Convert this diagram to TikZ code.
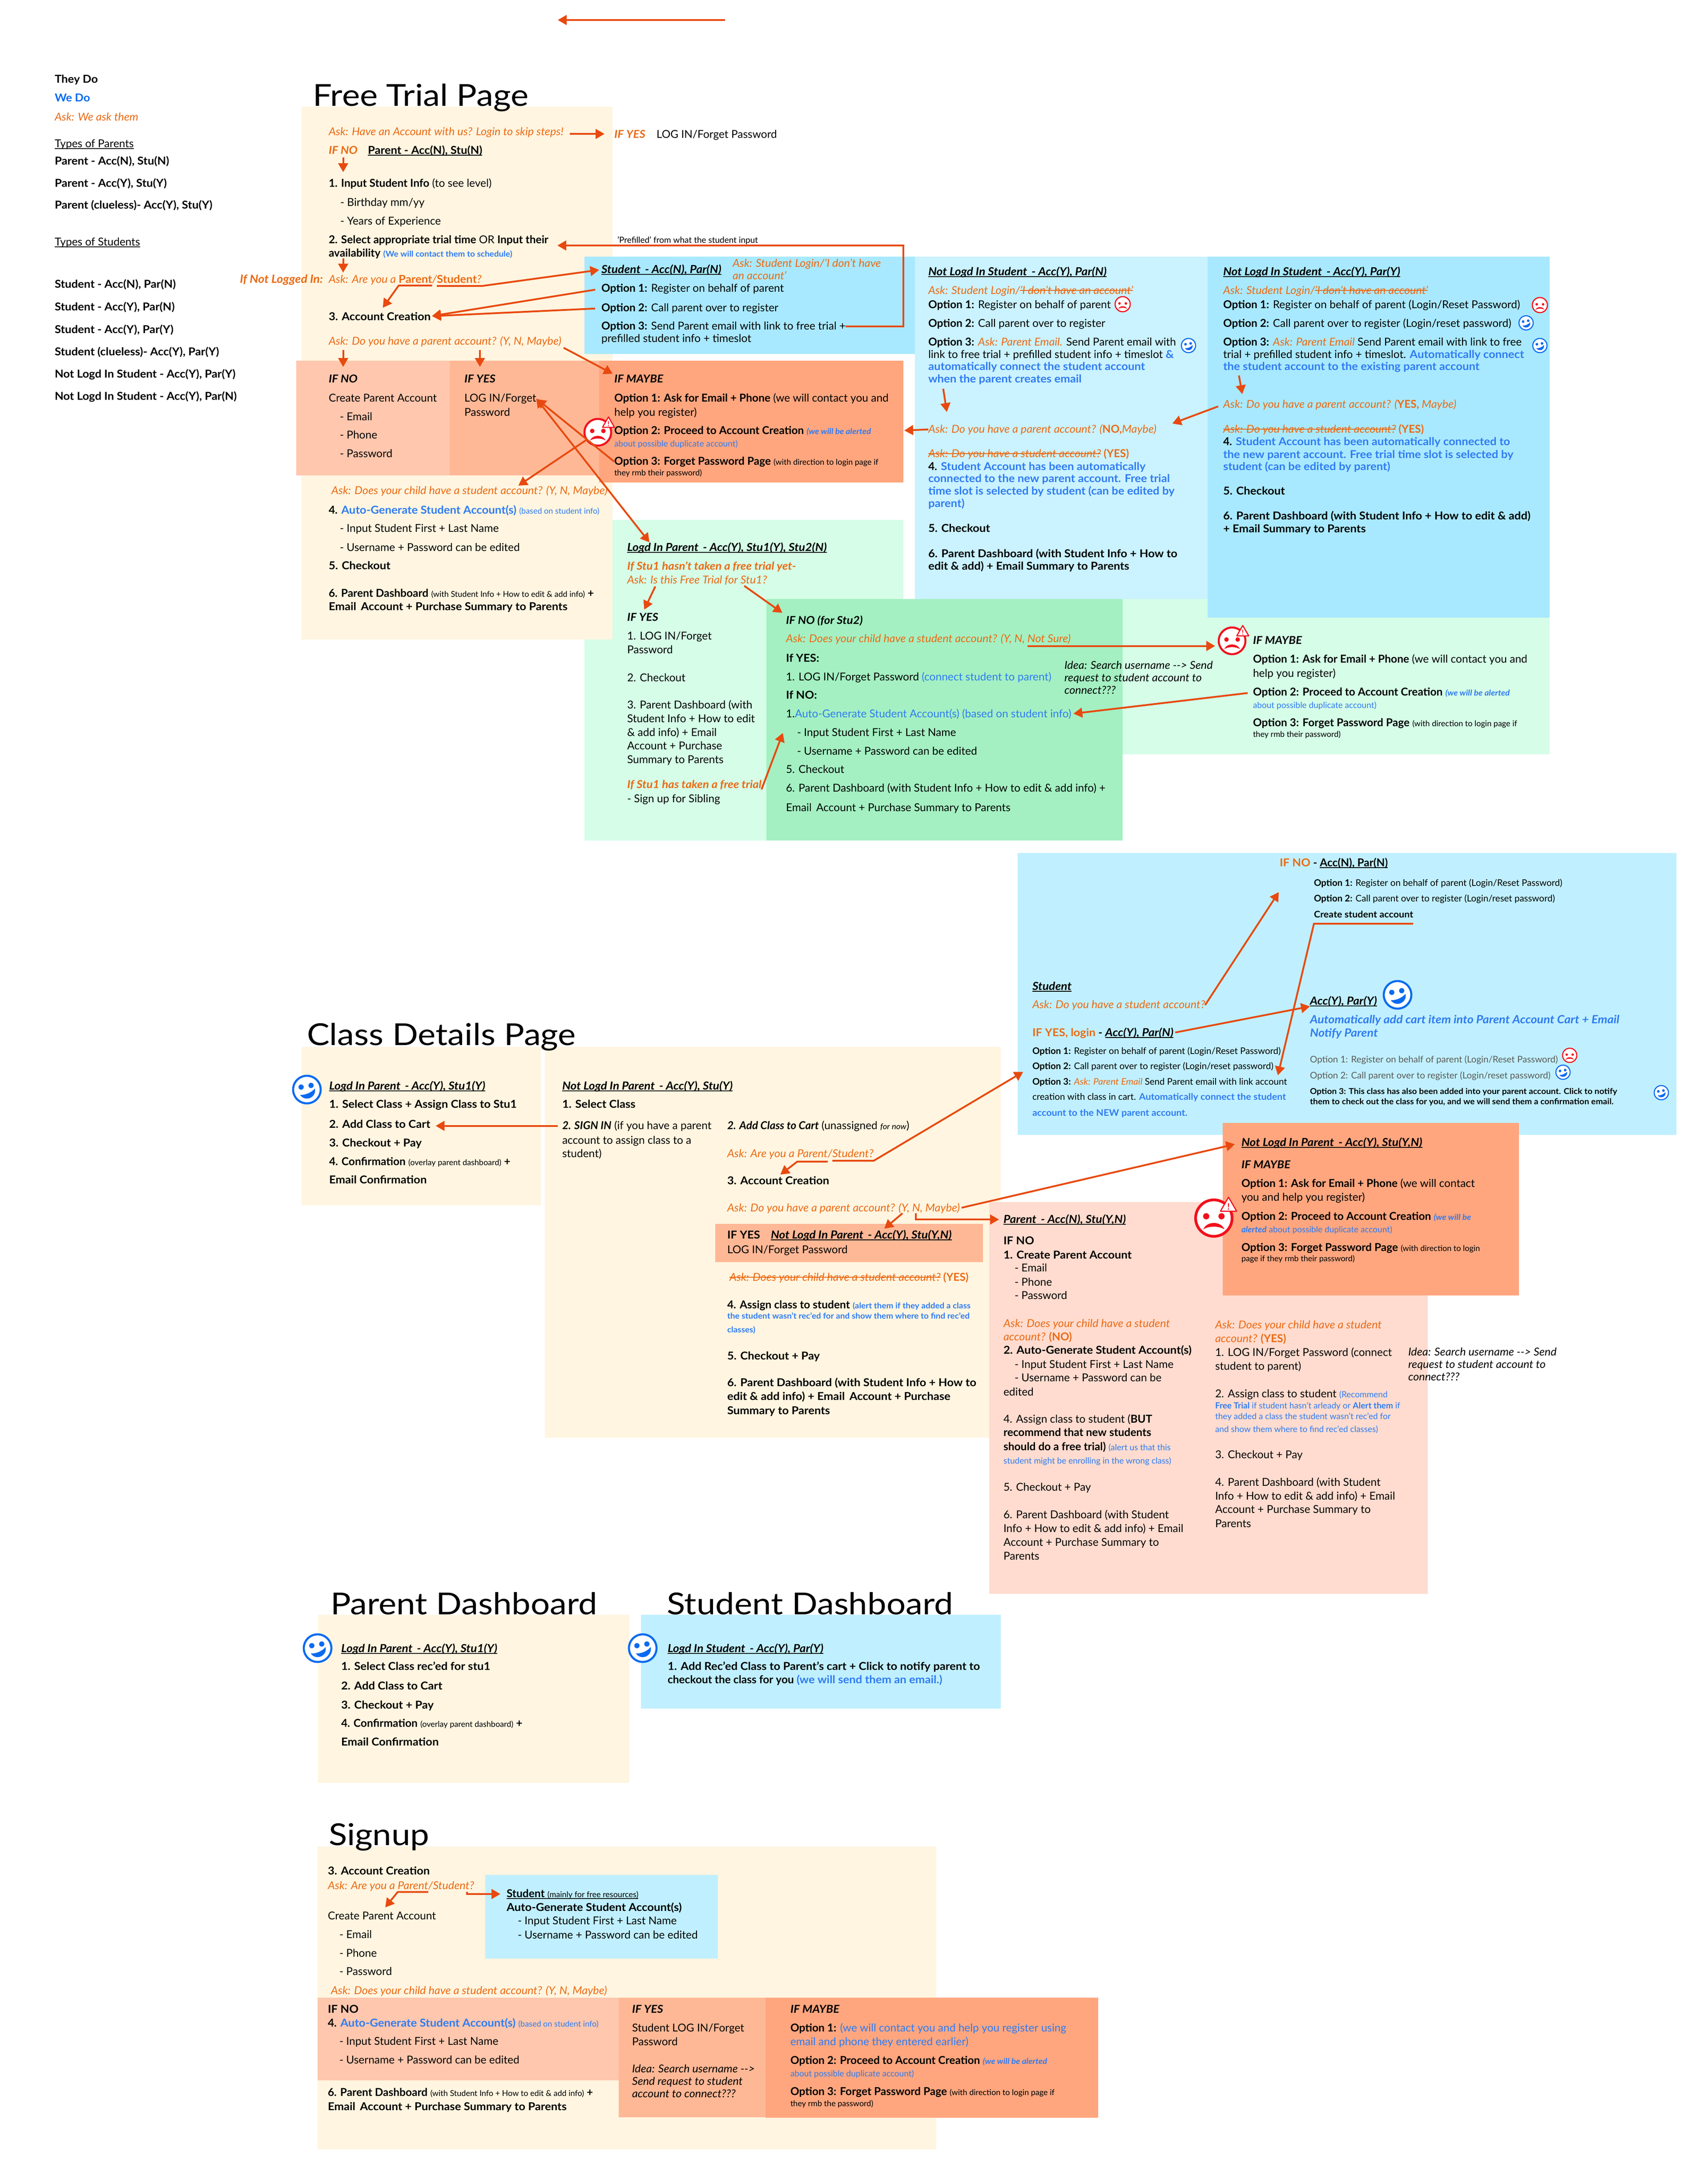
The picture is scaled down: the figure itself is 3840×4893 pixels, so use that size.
\documentclass[tikz,border=0pt]{standalone}
\usepackage{fontspec}
\setmainfont[BoldFeatures={FakeStretch=1.05},ItalicFeatures={FakeStretch=1.03},BoldItalicFeatures={FakeStretch=1.06}]{Lato}
\newfontfamily\titlefont[FakeStretch=1.12]{Lato}
\newfontfamily\flatfont{Lato}
\usetikzlibrary{arrows.meta,shapes.geometric,calc}

\definecolor{cream}{HTML}{FFF5E0}
\definecolor{saltA}{HTML}{FFC7AE}
\definecolor{saltB}{HTML}{FFB896}
\definecolor{saltC}{HTML}{FFA67F}
\definecolor{skyA}{HTML}{A9E9FF}
\definecolor{skyB}{HTML}{CAF2FF}
\definecolor{skyC}{HTML}{C0F0FF}
\definecolor{mintA}{HTML}{D5FDE7}
\definecolor{mintB}{HTML}{A4F0C2}
\definecolor{peach}{HTML}{FFDCCF}
\definecolor{arrowred}{HTML}{E8490F}
\definecolor{askor}{HTML}{EB6A13}
\definecolor{webl}{HTML}{2F7BF2}
\definecolor{facered}{HTML}{F2101C}
\definecolor{faceblue}{HTML}{0B6BF0}

\newsavebox\lnbox
\newcommand{\uline}[1]{\sbox\lnbox{#1}\rlap{\rule[-4pt]{\wd\lnbox}{1.6pt}}\usebox\lnbox}
\newcommand{\strk}[1]{\sbox\lnbox{#1}\rlap{\rule[7pt]{\wd\lnbox}{1.6pt}}\usebox\lnbox}
\newcommand{\ask}[1]{{\color{askor}\itshape #1}}
\newcommand{\bl}[1]{{\color{webl}#1}}
\newcommand{\flt}[1]{{\flatfont\bfseries #1}}
\newcommand{\sm}[1]{{\fontsize{18}{20}\selectfont #1}}
\newcommand{\smr}{\fontsize{19}{22}\selectfont}
\newcommand{\smb}{\fontsize{18}{21}\selectfont\bfseries}
\newcommand{\hd}[1]{{\fontsize{25}{28}\selectfont\bfseries\itshape\uline{#1}}}

\tikzset{
  tx/.style={anchor=base west,inner sep=0pt,outer sep=0pt,font=\fontsize{24.5}{28}\selectfont},
  txs/.style={tx,font=\fontsize{20.5}{24}\selectfont},
  txb/.style={tx,font=\fontsize{18.3}{22}\selectfont\bfseries},
  txa/.style={tx,font=\fontsize{25.5}{28}\selectfont\bfseries\itshape},
  big/.style={tx,font=\titlefont\fontsize{68}{72}\selectfont},
  arr/.style={draw=arrowred,line width=4pt,-{Triangle[length=20pt,width=22pt]}},
  face/.style={circle,fill=white,inner sep=0pt,outer sep=0pt},
  warnt/.style={regular polygon,regular polygon sides=3,draw=facered,fill=white,inner sep=0pt,
    text=facered,line join=round}
}

\newcommand{\sadface}[4]{%
  \node[face,draw=facered,minimum size={2*#4 pt},line width={.15*#4 pt}] (#1) at (#2,#3) {};
  \begin{scope}[shift={(#2,#3)},x=#4pt,y=-#4pt]
    \fill[facered] (-.42,-.1) circle[radius=.17] (.42,-.1) circle[radius=.17];
    \fill[facered] (-.58,.62) .. controls (-.4,.15) and (.4,.15) .. (.58,.62) .. controls (.3,.42) and (-.3,.42) .. cycle;
  \end{scope}}
\newcommand{\happyface}[4]{%
  \node[face,draw=faceblue,minimum size={2*#4 pt},line width={.15*#4 pt}] (#1) at (#2,#3) {};
  \begin{scope}[shift={(#2,#3)},x=#4pt,y=-#4pt]
    \fill[faceblue] (-.42,-.18) circle[radius=.19] (.3,-.3) circle[radius=.19];
    \fill[faceblue] (-.5,.38) .. controls (-.1,.42) and (.35,.2) .. (.58,-.08) .. controls (.72,.55) and (-.1,.95) .. cycle;
  \end{scope}}
\newcommand{\warnmark}[5]{%
  \node[warnt,minimum size=#4 pt,line width=2.5pt,font=\fontsize{#5}{#5}\selectfont\bfseries] (#1) at (#2,#3) {!};}

\begin{document}
\begin{tikzpicture}[x=1pt,y=-1pt]
\useasboundingbox (0,0) rectangle (3840,4893);
\fill[white] (0,0) rectangle (3840,4893);

% panels, back to front
\fill[mintA] (1314,1169) rectangle (2031,1890);
\fill[mintA] (2031,1347) rectangle (3484,1696);
\fill[cream] (678,240) rectangle (1377,1438);
\fill[skyA] (1314,577) rectangle (2057,796);
\fill[skyB] (2057,577) rectangle (2715,1347);
\fill[skyA] (2715,577) rectangle (3484,1389);
\fill[saltA] (666,811) rectangle (1011,1069);
\fill[saltB] (1011,811) rectangle (1347,1069);
\fill[saltC] (1347,811) rectangle (2031,1085);
\fill[mintB] (1723,1347) rectangle (2524,1890);
\fill[skyC] (2288,1918) rectangle (3769,2552);
\fill[cream] (678,2354) rectangle (1216,2710);
\fill[cream] (1225,2354) rectangle (2250,3233);
\fill[saltB] (1608,2752) rectangle (2210,2838);
\fill[peach] (2224,2703) rectangle (3210,3584);
\fill[saltC] (2749,2525) rectangle (3415,2913);
\fill[cream] (715,3631) rectangle (1415,4009);
\fill[skyC] (1441,3631) rectangle (2250,3842);
\fill[cream] (714,4152) rectangle (2105,4833);
\fill[skyC] (1091,4216) rectangle (1614,4404);
\fill[saltA] (714,4492) rectangle (1391,4678);
\fill[saltB] (1391,4492) rectangle (1721,4761);
\fill[saltC] (1721,4492) rectangle (2469,4762);

% legend
\node[tx] (lgThey) at (123,186) {\bfseries They Do};
\node[tx] (lgWe) at (123,228) {\bfseries\color{faceblue}We Do};
\node[tx] (lgAsk) at (123,271) {\ask{Ask: We ask them}};
\node[tx] (lgPar) at (123,331) {\uline{Types of Parents}};
\node[tx] (lgP1) at (123,370) {\bfseries Parent - Acc(N), Stu(N)};
\node[tx] (lgP2) at (123,420) {\bfseries Parent - Acc(Y), Stu(Y)};
\node[tx] (lgP3) at (123,469) {\bfseries Parent (clueless)- Acc(Y), Stu(Y)};
\node[tx] (lgStu) at (123,552) {\uline{Types of Students}};
\node[tx] (lgS1) at (123,647) {\bfseries Student - Acc(N), Par(N)};
\node[tx] (lgS2) at (123,698) {\bfseries Student - Acc(Y), Par(N)};
\node[tx] (lgS3) at (123,749) {\bfseries Student - Acc(Y), Par(Y)};
\node[tx] (lgS4) at (123,799) {\bfseries Student (clueless)- Acc(Y), Par(Y)};
\node[tx] (lgS5) at (123,849) {\bfseries Not Logd In Student - Acc(Y), Par(Y)};
\node[tx] (lgS6) at (123,899) {\bfseries Not Logd In Student - Acc(Y), Par(N)};
\coordinate (topR) at (1630,45);
\coordinate (topL) at (1254,45);

% free trial page
\node[big] (ftTitle) at (703,238) {Free Trial Page};
\node[tx] (ftAsk) at (739,304) {\ask{Ask: Have an Account with us? Login to skip steps!}};
\node[tx] (ftYes) at (1381,310) {\ask{\bfseries IF YES}};
\node[tx] (ftLogin) at (1476,310) {LOG IN/Forget Password};
\node[tx] (ftNo) at (739,346) {\ask{\bfseries IF NO}};
\node[tx] (ftPn) at (827,346) {\bfseries\uline{Parent - Acc(N), Stu(N)}};
\node[tx] (ftS1) at (739,420) {\flt{1. Input Student Info} (to see level)};
\node[tx] (ftBirth) at (765,463) {- Birthday mm/yy};
\node[tx] (ftYrs) at (765,505) {- Years of Experience};
\node[tx] (ftS2) at (739,547) {\flt{2. Select appropriate trial time} OR \flt{Input their}};
\node[tx] (ftAvail) at (739,577) {\flt{availability} \bl{\smb (We will contact them to schedule)}};
\node[txa,anchor=base east,text=askor] (ftNot) at (726,636) {If Not Logged In:};
\node[tx] (ftRole) at (739,636) {\ask{Ask: Are you a}};
\node[tx] (ftPar) at ([xshift=6pt]ftRole.base east) {\ask{\bfseries\upshape Parent}};
\node[tx] (ftSl) at (ftPar.base east) {\ask{/}};
\node[tx] (ftStu) at (ftSl.base east) {\ask{\bfseries\upshape Student}};
\node[tx] (ftQ) at (ftStu.base east) {\ask{?}};
\node[tx] (ftAcct) at (739,720) {\bfseries 3. Account Creation};
\node[tx] (ftAskP) at (739,775) {\ask{Ask: Do you have a parent account? (Y, N, Maybe)}};
\node[tx] (noHd) at (739,860) {\bfseries\itshape IF NO};
\node[tx] (noCr) at (739,903) {Create Parent Account};
\node[tx] (noEm) at (764,945) {- Email};
\node[tx] (noPh) at (764,986) {- Phone};
\node[tx] (noPw) at (764,1028) {- Password};
\node[tx] (yeHd) at (1044,860) {\bfseries\itshape IF YES};
\node[tx] (yeLog) at (1044,903) {LOG IN/Forget};
\node[tx] (yePw) at (1044,935) {Password};
\node[tx] (mayHd) at (1381,860) {\bfseries\itshape IF MAYBE};
\node[tx] (mayO1) at (1381,903) {\flt{Option 1: Ask for Email + Phone} (we will contact you and};
\node[tx] (mayH) at (1381,935) {help you register)};
\node[tx] (mayO2) at (1381,976) {\flt{Option 2: Proceed to Account Creation} \bl{\smb\itshape(we will be alerted}};
\node[tx] (mayAb) at (1381,1004) {\smr\bl{about possible duplicate account)}};
\node[tx] (mayO3) at (1381,1045) {\flt{Option 3: Forget Password Page} \sm{(with direction to login page if}};
\node[tx] (mayRm) at (1381,1069) {\sm{they rmb their password)}};
\node[tx] (ftAskC) at (745,1111) {\ask{Ask: Does your child have a student account? (Y, N, Maybe)}};
\node[tx] (ftS4) at (739,1155) {\flt{4.} \bl{\bfseries Auto-Generate Student Account(s)} \sm{\bl{(based on student info)}}};
\node[tx] (ftIn) at (764,1196) {- Input Student First + Last Name};
\node[tx] (ftUs) at (764,1239) {- Username + Password can be edited};
\node[tx] (ftS5) at (739,1280) {\bfseries 5. Checkout};
\node[tx] (ftS6) at (739,1342) {\flt{6. Parent Dashboard} \sm{(with Student Info + How to edit \& add info)} \flt{+}};
\node[tx] (ftS6b) at (739,1372) {\bfseries Email\, Account + Purchase Summary to Parents};

% student, not logged in
\node[tx] (preTx) at (1388,546) {\smr 'Prefilled' from what the student input};
\node[tx] (stTitle) at (1352,614) {\hd{Student\, - Acc(N), Par(N)}};
\node[tx] (stAsk) at (1647,600) {\ask{Ask: Student Login/'I don't have}};
\node[tx] (stAskb) at (1647,628) {\ask{an account'}};
\node[tx] (stO1) at (1352,656) {\flt{Option 1:} Register on behalf of parent};
\node[tx] (stO2) at (1352,700) {\flt{Option 2:} Call parent over to register};
\node[tx] (stO3) at (1352,741) {\flt{Option 3:} Send Parent email with link to free trial +};
\node[tx] (stO3b) at (1352,769) {prefilled student info + timeslot};
\coordinate (preC) at (2031,552);

\node[tx] (nnTitle) at (2087,619) {\hd{Not Logd In Student\, - Acc(Y), Par(N)}};
\node[tx] (nnAsk) at (2087,661) {\ask{Ask: Student Login/\strk{'I don't have an account'}}};
\node[tx] (nnO1) at (2087,693) {\flt{Option 1:} Register on behalf of parent};
\node[tx] (nnO2) at (2087,735) {\flt{Option 2:} Call parent over to register};
\node[tx] (nnO3) at (2087,777) {\flt{Option 3:} \ask{Ask: Parent Email.} Send Parent email with};
\node[tx] (nnO3b) at (2087,805) {link to free trial + prefilled student info + timeslot \bl{\bfseries\&}};
\node[tx] (nnO3c) at (2087,832) {\bl{\bfseries automatically connect the student account}};
\node[tx] (nnO3d) at (2087,860) {\bl{\bfseries when the parent creates email}};
\node[tx] (nnAskP) at (2087,973) {\ask{Ask: Do you have a parent account? (\flt{\upshape NO,}Maybe)}};
\node[tx] (nnAskS) at (2087,1028) {\ask{\strk{Ask: Do you have a student account?} \flt{\upshape (YES)}}};
\node[tx] (nnS4) at (2087,1057) {\flt{4.} \bl{\bfseries Student Account has been automatically}};
\node[tx] (nnS4b) at (2087,1084) {\bl{\bfseries connected to the new parent account. Free trial}};
\node[tx] (nnS4c) at (2087,1112) {\bl{\bfseries time slot is selected by student (can be edited by}};
\node[tx] (nnS4d) at (2087,1140) {\bl{\bfseries parent)}};
\node[tx] (nnS5) at (2087,1196) {\bfseries 5. Checkout};
\node[tx] (nnS6) at (2087,1253) {\bfseries 6. Parent Dashboard (with Student Info + How to};
\node[tx] (nnS6b) at (2087,1281) {\bfseries edit \& add) + Email Summary to Parents};
\coordinate (mayR) at (2033,968);

\node[tx] (nyTitle) at (2750,619) {\hd{Not Logd In Student\, - Acc(Y), Par(Y)}};
\node[tx] (nyAsk) at (2750,661) {\ask{Ask: Student Login/\strk{'I don't have an account'}}};
\node[tx] (nyO1) at (2750,693) {\flt{Option 1:} Register on behalf of parent (Login/Reset Password)};
\node[tx] (nyO2) at (2750,735) {\flt{Option 2:} Call parent over to register (Login/reset password)};
\node[tx] (nyO3) at (2750,777) {\flt{Option 3:} \ask{Ask: Parent Email} Send Parent email with link to free};
\node[tx] (nyO3b) at (2750,805) {trial + prefilled student info + timeslot. \bl{\bfseries Automatically connect}};
\node[tx] (nyO3c) at (2750,832) {\bl{\bfseries the student account to the existing parent account}};
\node[tx] (nyAskP) at (2750,917) {\ask{Ask: Do you have a parent account? (\flt{\upshape YES,} Maybe)}};
\node[tx] (nyAskS) at (2750,973) {\ask{\strk{Ask: Do you have a student account?} \flt{\upshape (YES)}}};
\node[tx] (nyS4) at (2750,1001) {\flt{4.} \bl{\bfseries Student Account has been automatically connected to}};
\node[tx] (nyS4b) at (2750,1030) {\bl{\bfseries the new parent account. Free trial time slot is selected by}};
\node[tx] (nyS4c) at (2750,1057) {\bl{\bfseries student (can be edited by parent)}};
\node[tx] (nyS5) at (2750,1112) {\bfseries 5. Checkout};
\node[tx] (nyS6) at (2750,1168) {\bfseries 6. Parent Dashboard (with Student Info + How to edit \& add)};
\node[tx] (nyS6b) at (2750,1197) {\bfseries + Email Summary to Parents};

% logged in parent
\node[tx] (lpTitle) at (1410,1239) {\hd{Logd In Parent\, - Acc(Y), Stu1(Y), Stu2(N)}};
\node[tx] (lpIf) at (1410,1281) {\ask{\bfseries If Stu1 hasn't taken a free trial yet-}};
\node[tx] (lpAsk) at (1410,1312) {\ask{Ask: Is this Free Trial for Stu1?}};
\node[tx] (lpYes) at (1410,1396) {\bfseries\itshape IF YES};
\node[tx] (lpS1) at (1410,1438) {1. LOG IN/Forget};
\node[tx] (lpS1b) at (1410,1469) {Password};
\node[tx] (lpS2) at (1410,1532) {2. Checkout};
\node[tx] (lpS3) at (1410,1593) {3. Parent Dashboard (with};
\node[tx] (lpS3b) at (1410,1624) {Student Info + How to edit};
\node[tx] (lpS3c) at (1410,1655) {\& add info) + Email};
\node[tx] (lpS3d) at (1410,1685) {Account + Purchase};
\node[tx] (lpS3e) at (1410,1716) {Summary to Parents};
\node[tx] (lpHas) at (1410,1772) {\ask{\bfseries If Stu1 has taken a free trial}};
\node[tx] (lpSib) at (1410,1804) {- Sign up for Sibling};

\node[tx] (dgHd) at (1767,1403) {\bfseries\itshape IF NO (for Stu2)};
\node[tx] (dgAsk) at (1767,1444) {\ask{Ask: Does your child have a student account? (Y, N,}};
\node[tx] (dgSure) at ([xshift=6pt]dgAsk.base east) {\ask{Not Sure)}};
\node[tx] (dgY) at (1767,1488) {\bfseries If YES:};
\node[tx] (dgLog) at (1767,1530) {1. LOG IN/Forget Password \bl{(connect student to parent)}};
\node[tx] (dgN) at (1767,1571) {\bfseries If NO:};
\node[tx] (dgAuto) at (1767,1613) {1.\bl{Auto-Generate Student Account(s) (based on student info)}};
\node[tx] (dgIn) at (1792,1655) {- Input Student First + Last Name};
\node[tx] (dgUs) at (1792,1697) {- Username + Password can be edited};
\node[tx] (dgS5) at (1767,1738) {5. Checkout};
\node[tx] (dgS6) at (1767,1780) {6. Parent Dashboard (with Student Info + How to edit \& add info) +};
\node[tx] (dgS6b) at (1767,1824) {Email\, Account + Purchase Summary to Parents};
\node[tx] (idA) at (2393,1504) {\itshape Idea: Search username -{}-{}> Send};
\node[tx] (idB) at (2393,1532) {\itshape request to student account to};
\node[tx] (idC) at (2393,1560) {\itshape connect???};

\node[tx] (mgHd) at (2817,1448) {\bfseries\itshape IF MAYBE};
\node[tx] (mgO1) at (2817,1490) {\flt{Option 1: Ask for Email + Phone} (we will contact you and};
\node[tx] (mgH) at (2817,1522) {help you register)};
\node[tx] (mgO2) at (2817,1564) {\flt{Option 2: Proceed to Account Creation} \bl{\smb\itshape(we will be alerted}};
\node[tx] (mgAb) at (2817,1592) {\smr\bl{about possible duplicate account)}};
\node[tx] (mgO3) at (2817,1633) {\flt{Option 3: Forget Password Page} \sm{(with direction to login page if}};
\node[tx] (mgRm) at (2817,1657) {\sm{they rmb their password)}};

% student box by the class details page
\node[tx] (csNo) at (2877,1948) {\ask{\bfseries\upshape IF NO} \flt{- \uline{Acc(N), Par(N)}}};
\node[txs] (csNo1) at (2954,1992) {\flt{Option 1:} Register on behalf of parent (Login/Reset Password)};
\node[txs] (csNo2) at (2954,2027) {\flt{Option 2:} Call parent over to register (Login/reset password)};
\node[txs] (csCre) at (2954,2063) {\bfseries Create student account};
\node[tx] (csTitle) at (2321,2226) {\hd{Student}};
\node[tx] (csAsk) at (2321,2267) {\ask{Ask: Do you have a student account?}};
\node[tx] (csYes) at (2321,2330) {\ask{\bfseries\upshape IF YES, login} \flt{-} \hd{Acc(Y), Par(N)}};
\node[txs] (csO1) at (2321,2370) {\flt{Option 1:} Register on behalf of parent (Login/Reset Password)};
\node[txs] (csO2) at (2321,2404) {\flt{Option 2:} Call parent over to register (Login/reset password)};
\node[txs] (csO3) at (2321,2439) {\flt{Option 3:} \ask{Ask: Parent Email} Send Parent email with link account};
\node[txs] (csO3b) at (2321,2473) {creation with class in cart. \bl{\bfseries Automatically connect the student}};
\node[txs] (csO3c) at (2321,2509) {\bl{\bfseries account to the NEW parent account.}};
\node[tx] (cyTitle) at (2945,2259) {\hd{Acc(Y), Par(Y)}};
\node[txa,text=webl] (cyAuto) at (2945,2301) {Automatically add cart item into Parent Account Cart + Email};
\node[txa,text=webl] (cyNot) at (2945,2331) {Notify Parent};
\node[txs,text=black!65] (cyO1) at (2945,2389) {Option 1: Register on behalf of parent (Login/Reset Password)};
\node[txs,text=black!65] (cyO2) at (2945,2425) {Option 2: Call parent over to register (Login/reset password)};
\node[txb] (cyO3) at (2945,2460) {Option 3: This class has also been added into your parent account. Click to notify};
\node[txb] (cyO3b) at (2945,2483) {them to check out the class for you, and we will send them a confirmation email.};
\coordinate (csTip) at (2875,2006);

% class details page
\node[big] (cdTitle) at (690,2350) {Class Details Page};
\node[tx] (ldTitle) at (740,2450) {\hd{Logd In Parent\, - Acc(Y), Stu1(Y)}};
\node[tx] (ldS1) at (740,2491) {\bfseries 1. Select Class + Assign Class to Stu1};
\node[tx] (ldS2) at (740,2536) {\bfseries 2. Add Class to Cart};
\node[tx] (ldS3) at (740,2578) {\bfseries 3. Checkout + Pay};
\node[tx] (ldS4) at (740,2620) {\flt{4. Confirmation} \sm{(overlay parent dashboard)} \flt{+}};
\node[tx] (ldS4b) at (740,2661) {\bfseries Email Confirmation};

\node[tx] (cdTit2) at (1264,2450) {\hd{Not Logd In Parent\, - Acc(Y), Stu(Y)}};
\node[tx] (cdS1) at (1264,2491) {\bfseries 1. Select Class};
\node[tx] (cdSign) at (1264,2539) {\flt{\itshape 2. SIGN IN} (if you have a parent};
\node[tx] (cdSignb) at (1264,2572) {account to assign class to a};
\node[tx] (cdSignc) at (1264,2602) {student)};
\node[tx] (cdCart) at (1635,2539) {\flt{\itshape 2. Add Class to Cart} (unassigned \sm{\itshape for now})};
\node[tx] (cdRole) at (1635,2602) {\ask{Ask: Are you a}};
\node[tx] (cdPar) at ([xshift=6pt]cdRole.base east) {\ask{Parent}};
\node[tx] (cdSl) at (cdPar.base east) {\ask{/}};
\node[tx] (cdStu) at (cdSl.base east) {\ask{Student?}};
\node[tx] (cdAcct) at (1635,2663) {\bfseries 3. Account Creation};
\node[tx] (cdAskP) at (1635,2724) {\ask{Ask: Do you have a parent account? (Y, N, Maybe)}};
\node[tx] (cdYes) at (1635,2785) {\bfseries IF YES};
\node[tx] (cdNl) at (1733,2785) {\hd{Not Logd In Parent\, - Acc(Y), Stu(Y,N)}};
\node[tx] (cdLog) at (1635,2818) {LOG IN/Forget Password};
\node[tx] (cdAskC) at (1640,2880) {\ask{\strk{Ask: Does your child have a student account?} \flt{\upshape (YES)}}};
\node[tx] (cdS4) at (1635,2942) {\flt{4. Assign class to student} \bl{\smb (alert them if they added a class}};
\node[tx] (cdS4b) at (1635,2965) {\bl{\smb the student wasn't rec'ed for and show them where to find rec'ed}};
\node[tx] (cdS4c) at (1635,2996) {\bl{\smb classes)}};
\node[tx] (cdS5) at (1635,3057) {\bfseries 5. Checkout + Pay};
\node[tx] (cdS6) at (1635,3117) {\bfseries 6. Parent Dashboard (with Student Info + How to};
\node[tx] (cdS6b) at (1635,3148) {\bfseries edit \& add info) + Email\, Account + Purchase};
\node[tx] (cdS6c) at (1635,3180) {\bfseries Summary to Parents};

\node[tx] (ptTitle) at (2256,2750) {\hd{Parent\, - Acc(N), Stu(Y,N)}};
\node[tx] (ptNo) at (2256,2798) {\bfseries IF NO};
\node[tx] (ptS1) at (2256,2830) {\bfseries 1. Create Parent Account};
\node[tx] (ptEm) at (2281,2859) {- Email};
\node[tx] (ptPh) at (2281,2891) {- Phone};
\node[tx] (ptPw) at (2281,2921) {- Password};
\node[tx] (ptAsk) at (2256,2984) {\ask{Ask: Does your child have a student}};
\node[tx] (ptAskb) at (2256,3014) {\ask{account? \flt{\upshape (NO)}}};
\node[tx] (ptS2) at (2256,3044) {\bfseries 2. Auto-Generate Student Account(s)};
\node[tx] (ptIn) at (2281,3076) {- Input Student First + Last Name};
\node[tx] (ptUs) at (2281,3106) {- Username + Password can be};
\node[tx] (ptEd) at (2256,3138) {edited};
\node[tx] (ptS4) at (2256,3199) {4. Assign class to student (\flt{BUT}};
\node[tx] (ptS4b) at (2256,3229) {\flt{recommend that new students}};
\node[tx] (ptS4c) at (2256,3261) {\flt{should do a free trial)} \bl{\smr (alert us that this}};
\node[tx] (ptS4d) at (2256,3291) {\bl{\smr student might be enrolling in the wrong class)}};
\node[tx] (ptS5) at (2256,3352) {5. Checkout + Pay};
\node[tx] (ptS6) at (2256,3414) {6. Parent Dashboard (with Student};
\node[tx] (ptS6b) at (2256,3445) {Info + How to edit \& add info) + Email};
\node[tx] (ptS6c) at (2256,3476) {Account + Purchase Summary to};
\node[tx] (ptS6d) at (2256,3507) {Parents};

\node[tx] (pyAsk) at (2732,2987) {\ask{Ask: Does your child have a student}};
\node[tx] (pyAskb) at (2732,3018) {\ask{account? \flt{\upshape (YES)}}};
\node[tx] (pyS1) at (2732,3049) {1. LOG IN/Forget Password (connect};
\node[tx] (pyS1b) at (2732,3080) {student to parent)};
\node[tx] (pyS2) at (2732,3142) {2. Assign class to student \bl{\smr (Recommend}};
\node[tx] (pyS2b) at (2732,3167) {\bl{\smr\flt{Free Trial} if student hasn't arleady or \flt{Alert them} if}};
\node[tx] (pyS2c) at (2732,3191) {\bl{\smr they added a class the student wasn't rec'ed for}};
\node[tx] (pyS2d) at (2732,3220) {\bl{\smr and show them where to find rec'ed classes)}};
\node[tx] (pyS3) at (2732,3279) {3. Checkout + Pay};
\node[tx] (pyS4) at (2732,3341) {4. Parent Dashboard (with Student};
\node[tx] (pyS4b) at (2732,3372) {Info + How to edit \& add info) + Email};
\node[tx] (pyS4c) at (2732,3402) {Account + Purchase Summary to};
\node[tx] (pyS4d) at (2732,3434) {Parents};
\node[tx] (pyIdA) at (3166,3048) {\itshape Idea: Search username -{}-{}> Send};
\node[tx] (pyIdB) at (3166,3076) {\itshape request to student account to};
\node[tx] (pyIdC) at (3166,3104) {\itshape connect???};

\node[tx] (nlTitle) at (2791,2577) {\hd{Not Logd In Parent\, - Acc(Y), Stu(Y,N)}};
\node[tx] (nlHd) at (2791,2627) {\bfseries\itshape IF MAYBE};
\node[tx] (nlO1) at (2791,2669) {\flt{Option 1: Ask for Email + Phone} (we will contact};
\node[tx] (nlO1b) at (2791,2700) {you and help you register)};
\node[tx] (nlO2) at (2791,2743) {\flt{Option 2: Proceed to Account Creation} \bl{\smb\itshape(we will be}};
\node[tx] (nlO2b) at (2791,2771) {\smr\bl{\flt{\itshape alerted} about possible duplicate account)}};
\node[tx] (nlO3) at (2791,2813) {\flt{Option 3: Forget Password Page} \sm{(with direction to login}};
\node[tx] (nlO3b) at (2791,2836) {\sm{page if they rmb their password)}};

% dashboards
\node[big] (pdTitle) at (743,3630) {Parent Dashboard};
\node[big] (sdTitle) at (1499,3630) {Student Dashboard};
\node[tx] (pdHd) at (767,3715) {\hd{Logd In Parent\, - Acc(Y), Stu1(Y)}};
\node[tx] (pdS1) at (767,3755) {\bfseries 1. Select Class rec'ed for stu1};
\node[tx] (pdS2) at (767,3799) {\bfseries 2. Add Class to Cart};
\node[tx] (pdS3) at (767,3842) {\bfseries 3. Checkout + Pay};
\node[tx] (pdS4) at (767,3883) {\flt{4. Confirmation} \sm{(overlay parent dashboard)} \flt{+}};
\node[tx] (pdS4b) at (767,3925) {\bfseries Email Confirmation};
\node[tx] (sdHd) at (1501,3715) {\hd{Logd In Student\, - Acc(Y), Par(Y)}};
\node[tx] (sdS1) at (1501,3755) {\bfseries 1. Add Rec'ed Class to Parent's cart + Click to notify parent to};
\node[tx] (sdS1b) at (1501,3785) {\flt{checkout the class for you} \bl{\bfseries (we will send them an email.)}};

% signup
\node[big] (sgTitle) at (739,4149) {Signup};
\node[tx] (sgAcct) at (737,4215) {\bfseries 3. Account Creation};
\node[tx] (sgRole) at (737,4248) {\ask{Ask: Are you a}};
\node[tx] (sgPar) at ([xshift=6pt]sgRole.base east) {\ask{Parent}};
\node[tx] (sgSl) at (sgPar.base east) {\ask{/}};
\node[tx] (sgStu) at (sgSl.base east) {\ask{Student?}};
\node[tx] (sgCre) at (737,4316) {Create Parent Account};
\node[tx] (sgEm) at (763,4358) {- Email};
\node[tx] (sgPh) at (763,4400) {- Phone};
\node[tx] (sgPw) at (763,4441) {- Password};
\node[tx] (sgAskC) at (744,4484) {\ask{Ask: Does your child have a student account? (Y, N, Maybe)}};
\node[tx] (sgNo) at (737,4526) {\bfseries IF NO};
\node[tx] (sgS4) at (737,4557) {\flt{4.} \bl{\bfseries Auto-Generate Student Account(s)} \sm{\bl{(based on student info)}}};
\node[tx] (sgIn) at (763,4598) {- Input Student First + Last Name};
\node[tx] (sgUs) at (763,4640) {- Username + Password can be edited};
\node[tx] (sgS6) at (737,4713) {\flt{6. Parent Dashboard} \sm{(with Student Info + How to edit \& add info)} \flt{+}};
\node[tx] (sgS6b) at (737,4745) {\bfseries Email\, Account + Purchase Summary to Parents};
\node[tx] (sgStT) at (1139,4266) {\uline{\flt{Student} \sm{(mainly for free resources)}}};
\node[tx] (sgGen) at (1139,4297) {\bfseries Auto-Generate Student Account(s)};
\node[tx] (sgStI) at (1164,4327) {- Input Student First + Last Name};
\node[tx] (sgStU) at (1164,4359) {- Username + Password can be edited};
\node[tx] (syHd) at (1421,4526) {\bfseries\itshape IF YES};
\node[tx] (syLog) at (1421,4568) {Student LOG IN/Forget};
\node[tx] (syPw) at (1421,4599) {Password};
\node[tx] (syIdA) at (1421,4660) {\itshape Idea: Search username -{}-{}>};
\node[tx] (syIdB) at (1421,4688) {\itshape Send request to student};
\node[tx] (syIdC) at (1421,4716) {\itshape account to connect???};
\node[tx] (smHd) at (1777,4526) {\bfseries\itshape IF MAYBE};
\node[tx] (smO1) at (1777,4568) {\flt{Option 1:} \bl{(we will contact you and help you register using}};
\node[tx] (smO1b) at (1777,4599) {\bl{email and phone they entered earlier)}};
\node[tx] (smO2) at (1777,4641) {\flt{Option 2: Proceed to Account Creation} \bl{\smb\itshape(we will be alerted}};
\node[tx] (smAb) at (1777,4669) {\smr\bl{about possible duplicate account)}};
\node[tx] (smO3) at (1777,4711) {\flt{Option 3: Forget Password Page} \sm{(with direction to login page if}};
\node[tx] (smRm) at (1777,4736) {\sm{they rmb the password)}};

% faces
\sadface{sadA}{1344}{972}{30}
\warnmark{warnA}{1368}{953}{30}{15}
\sadface{sadB}{2524}{684}{17}
\happyface{hapA}{2672}{777}{16}
\sadface{sadC}{3462}{686}{17}
\happyface{hapB}{3431}{726}{16}
\happyface{hapC}{3462}{777}{16}
\sadface{sadD}{2770}{1441}{30}
\warnmark{warnB}{2794}{1422}{30}{15}
\happyface{hapD}{3142}{2237}{31}
\sadface{sadE}{3529}{2373}{16}
\happyface{hapE}{3514}{2411}{16}
\happyface{hapF}{3735}{2457}{16}
\sadface{sadF}{2729}{2739}{41}
\warnmark{warnC}{2762}{2713}{42}{20}
\happyface{hapG}{690}{2450}{31}
\happyface{hapH}{714}{3706}{31}
\happyface{hapI}{1445}{3706}{31}

% connectors
\draw[arr] (topR) -- (topL);
\draw[arr,shorten <=14pt,shorten >=22pt] (ftAsk.east |- ftYes.west) -- (ftYes.west);
\draw[arr,shorten <=8pt,shorten >=14pt] (ftNo.south) -- (ftNo.south |- ftS1.north);
\draw[arr,shorten >=5pt] (ftNo.south |- ftAvail.south) -- (ftNo.south |- ftRole.north);
\draw[arr,shorten >=12pt] ([yshift=-6pt]ftPar.south east) -- ([yshift=-6pt]ftPar.south west) -- (ftAcct.north);
\draw[arr,shorten >=5pt] ([yshift=-7pt]ftStu.south west) -- ([yshift=-7pt]ftQ.south east) -- (stTitle.west);
\draw[arr,shorten <=14pt,shorten >=3pt] (stO1.west) -- (ftAcct.east);
\draw[arr,shorten <=14pt,shorten >=3pt] (stO2.west) -- (ftAcct.east);
\draw[arr,shorten >=20pt] (stO3.east) -| (preC) -- (preC -| ftS2.east);
\draw[arr,shorten <=8pt,shorten >=17pt] (noHd.north |- ftAskP.south) -- (noHd.north);
\draw[arr,shorten <=8pt,shorten >=17pt] (yeHd.north |- ftAskP.south) -- (yeHd.north);
\draw[arr,shorten <=6pt,shorten >=4pt] (ftAskP.south east) -- (mayHd.north west);
\draw[arr,shorten >=2pt] (mayO3.west) -- (yeLog.east);
\draw[arr,{Triangle[length=20pt,width=22pt]}-{Triangle[length=20pt,width=22pt]}] (yeLog.east) -- ([xshift=50pt]lpTitle.north west);
\draw[arr] (sadA) -- ([xshift=110pt]ftAskC.north);
\draw[arr,shorten <=4pt,shorten >=8pt] ([xshift=65pt]lpAsk.south west) -- (lpYes.north);
\draw[arr,shorten <=4pt,shorten >=10pt] ([xshift=260pt]lpAsk.south west) -- (dgHd.north west);
\draw[arr] (lpHas.south east) -- ([xshift=-32pt]dgIn.west);
\coordinate (sureS) at ([yshift=-5pt]dgSure.south west);
\draw[arr,shorten >=8pt] (sureS) -- (sureS -| sadD.west);
\draw[arr,shorten <=12pt,shorten >=5pt] (mgO2.west) -- (dgAuto.east);
\draw[arr,shorten <=10pt,shorten >=28pt] ([xshift=32pt]nnO3d.south west) -- ([xshift=46pt]nnAskP.north west);
\draw[arr,shorten <=8pt,shorten >=12pt] ([xshift=34pt]nyO3c.south west) -- ([xshift=45pt]nyAskP.north west);
\draw[arr,shorten <=12pt,shorten >=38pt] (nyAskP.west) -- (nnAskP.east);
\draw[arr] (nnAskP.west) -- (mayR);
\draw[arr,shorten <=10pt,shorten >=12pt] (cdSign.west) -- (cdSign.west -| ldS2.east);
\draw[arr,shorten >=6pt] ([yshift=-10pt]cdPar.south east) -- ([yshift=-10pt]cdPar.south west) -- (cdAcct.north);
\draw[arr,shorten >=24pt] ([yshift=-8pt]cdStu.south west) -- ([yshift=-8pt]cdStu.south east) -- (csO2.west);
\draw[arr,shorten <=4pt,shorten >=15pt] (cdAskP.east) -- (nlTitle.west);
\draw[arr,shorten >=4pt] ([xshift=394pt]cdAskP.south west) -- ([xshift=252pt]cdNl.north west);
\draw[arr,shorten >=10pt] ([xshift=424pt]cdAskP.south west) |- (ptTitle.west);
\draw[arr] (csAsk.east) -- (csTip);
\draw[arr,shorten <=4pt] (csYes.east) -- (cyTitle.south west);
\draw[arr] ([yshift=-14pt]csCre.south east) -- ([yshift=-14pt]csCre.south west) -- ([xshift=10pt,yshift=-20pt]csO2.east);
\draw[arr,shorten >=12pt] ([yshift=-6pt]sgPar.south east) -- ([yshift=-6pt]sgPar.south west) -- (sgCre.north);
\draw[arr,shorten >=14pt] ([xshift=30pt,yshift=-6pt]sgStu.south) |- (sgStT.west);

\end{tikzpicture}
\end{document}
